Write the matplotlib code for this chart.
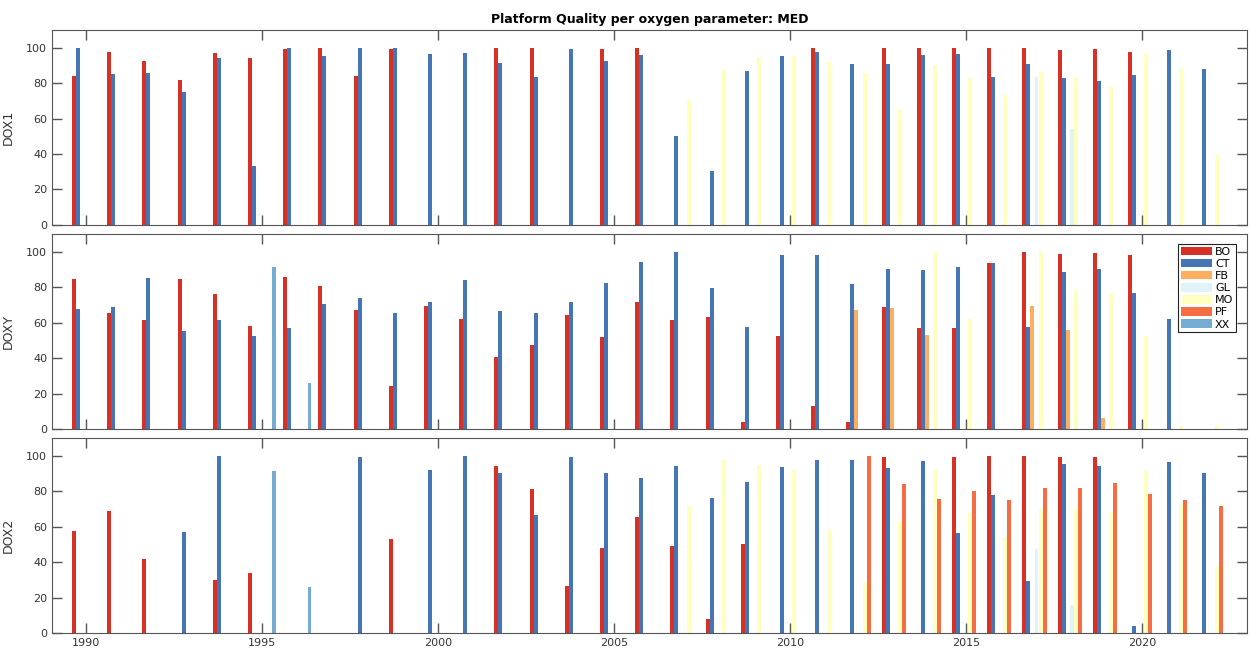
import numpy as np
import matplotlib
matplotlib.use("Agg")
import matplotlib.pyplot as plt

years = np.arange(1990, 2023)
platforms = ["BO", "CT", "FB", "GL", "MO", "PF", "XX"]
colors = ["#d73027", "#4575b4", "#fdae61", "#e0f3f8", "#ffffbf", "#f46d43", "#74add1"]
params = ["DOX1", "DOXY", "DOX2"]
xtick_years = [1990, 1995, 2000, 2005, 2010, 2015, 2020]

# quality (%) per year, 1990..2022; 0 = no data
dox1_bo = [84, 97.7, 92.7, 81.8, 97.2, 94.2, 99, 100, 84, 99, 0, 0, 100, 99.6, 0, 99, 100,
           0, 0, 0, 0, 100, 0, 100, 100, 100, 99.6, 99.6, 98.7, 99, 97.7, 0, 0]
dox1_ct = [100, 85, 85.5, 74.7, 94, 33, 100, 95, 100, 100, 96.2, 97.2, 91.4, 83.3, 99, 92.7, 95.9,
           50, 30.6, 86.9, 95.5, 97.7, 91, 91, 95.9, 96.2, 83.7, 90.6, 82.7, 81, 84.8, 98.7, 88.2]
dox1_fb = [0] * 33
dox1_gl = [0] * 27 + [83.7, 54.2, 0, 0, 0, 0]
dox1_mo = [0] * 17 + [70.5, 87.2, 94.7, 95.1, 91.7, 85.9, 65.1, 90, 82.7, 73.4, 86.3, 83.7,
                      77.9, 96.8, 88.2, 39.6]
dox1_pf = [0] * 33
dox1_xx = [0] * 33

doxy_bo = [84.8, 65.3, 61.3, 84.8, 76.4, 58.2, 85.7, 80.7, 67.4, 24.2, 69.4, 62.3, 40.5, 47.3, 64.5,
           51.8, 71.9, 61.7, 63, 3.8, 52.3, 12.9, 4.1, 68.7, 57.2, 56.7, 93.8, 100, 98.9, 99.2, 97.9, 0, 0]
doxy_ct = [67.5, 69, 85.4, 55.5, 61.3, 52.7, 56.8, 70.4, 74.1, 65.3, 71.5, 83.9, 66.4, 65.3, 71.9,
           82.2, 94.4, 100, 79.4, 57.6, 98.3, 98.3, 81.6, 90.4, 89.9, 91.2, 93.8, 57.6, 88.4, 90.2, 76.7, 62.3, 0]
doxy_fb = [0] * 22 + [67.2, 68.1, 53.3, 0, 0, 69.4, 55.9, 6.2, 0, 0, 0]
doxy_gl = [0] * 33
doxy_mo = [0] * 24 + [100, 62.3, 0, 100, 77.7, 76.7, 52.5, 1.9, 1.7]
doxy_pf = [0] * 33
doxy_xx = [0] * 5 + [91.2, 25.7] + [0] * 26

dox2_bo = [57.8, 68.7, 41.6, 0, 30, 34.1, 0, 0, 0, 53, 0, 0, 94.2, 81.3, 26.3, 47.9, 65.5, 49.3,
           8, 50.4, 0, 0, 0, 99.6, 0, 99.6, 100, 100, 99.3, 99.6, 0, 0, 0]
dox2_ct = [0, 0, 0, 57.1, 100, 0, 0, 0, 99.6, 0, 91.8, 100, 90.3, 66.8, 99.6, 90.3, 87.5, 94.2,
           76.3, 85.3, 93.8, 97.9, 97.9, 93.1, 97, 56.2, 78, 29.3, 95.3, 94.2, 3.9, 96.6, 90.3]
dox2_fb = [0] * 33
dox2_gl = [0] * 27 + [47.2, 16, 0, 0, 0, 0]
dox2_mo = [0] * 17 + [71.8, 97.6, 94.8, 92.2, 58.2, 28.7, 62.9, 92.2, 67.7, 54.3, 70, 70, 68.3,
                      91.6, 73.1, 37.5]
dox2_pf = [0] * 22 + [100, 84, 75.6, 80.4, 75, 81.7, 81.7, 84.5, 78.5, 75, 71.8]
dox2_xx = [0] * 5 + [91.2, 25.9] + [0] * 26

series = {
    "DOX1": [dox1_bo, dox1_ct, dox1_fb, dox1_gl, dox1_mo, dox1_pf, dox1_xx],
    "DOXY": [doxy_bo, doxy_ct, doxy_fb, doxy_gl, doxy_mo, doxy_pf, doxy_xx],
    "DOX2": [dox2_bo, dox2_ct, dox2_fb, dox2_gl, dox2_mo, dox2_pf, dox2_xx],
}

plt.rcParams["font.family"] = "DejaVu Sans"
fig = plt.figure(figsize=(12.5, 6.5), dpi=100)

left, width = 0.0416, 0.956
bottoms = [0.654, 0.340, 0.026]
height = 0.300
step, bw = 0.115, 0.112
axcol = "#555555"

axes = []
for k, p in enumerate(params):
    ax = fig.add_axes([left, bottoms[k], width, height])
    axes.append(ax)
    for i, (vals, c) in enumerate(zip(series[p], colors)):
        ax.bar(years + (i - 3) * step, vals, width=bw, color=c, linewidth=0,
               label=platforms[i])
    ax.set_xlim(1989.03, 2022.98)
    ax.set_ylim(0, 110)
    ax.set_yticks([0, 20, 40, 60, 80, 100])
    ax.set_xticks(xtick_years)
    ax.tick_params(direction="in", length=7, width=1, top=True, right=True,
                   colors=axcol, labelcolor="#333333", labelsize=8)
    for s in ax.spines.values():
        s.set_color(axcol)
    ax.set_ylabel(p, fontsize=9, color="#333333", labelpad=8)
    if k < 2:
        ax.set_xticklabels([])

axes[0].set_title("Platform Quality per oxygen parameter: MED", fontsize=9,
                  fontweight="bold", pad=5)

leg = axes[1].legend(loc="upper right", bbox_to_anchor=(0.991, 0.949), borderaxespad=0,
                     fontsize=8, handlelength=2.8, handleheight=0.8, labelspacing=0.18,
                     handletextpad=0.3, borderpad=0.25, fancybox=False, framealpha=1)
leg.get_frame().set_edgecolor("#222222")
leg.get_frame().set_linewidth(0.8)

fig.savefig("out.png", dpi=100)
